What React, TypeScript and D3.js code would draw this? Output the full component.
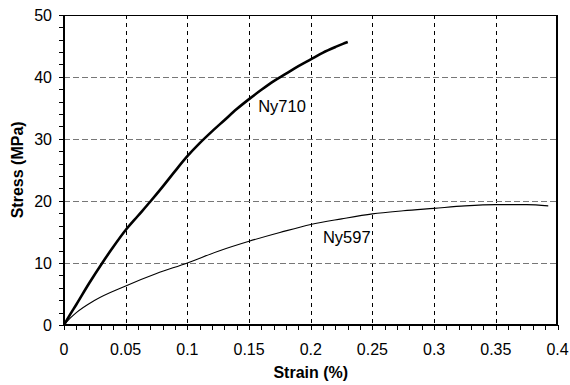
import React from "react";
import * as d3 from "d3";

const xTicks = [0, 0.05, 0.1, 0.15, 0.2, 0.25, 0.3, 0.35, 0.4];
const xTickLabels = ["0", "0.05", "0.1", "0.15", "0.2", "0.25", "0.3", "0.35", "0.4"];
const yTicks = [0, 10, 20, 30, 40, 50];

const ny710Strain = [0, 0.005, 0.01, 0.02, 0.031, 0.04, 0.05, 0.06, 0.07, 0.08, 0.09, 0.1, 0.11, 0.12, 0.13, 0.14, 0.15, 0.16, 0.17, 0.18, 0.19, 0.2, 0.21, 0.22, 0.226, 0.23];
const ny710Stress = [0, 1.7, 3.3, 6.6, 10, 12.6, 15.3, 17.6, 19.9, 22.3, 24.8, 27.2, 29.3, 31.2, 33.0, 34.8, 36.4, 37.9, 39.3, 40.5, 41.7, 42.8, 43.9, 44.8, 45.3, 45.6];

const ny597Strain = [0, 0.005, 0.01, 0.025, 0.05, 0.075, 0.1, 0.125, 0.15, 0.175, 0.2, 0.225, 0.25, 0.275, 0.3, 0.325, 0.35, 0.375, 0.3925];
const ny597Stress = [0, 1.1, 2.0, 4.0, 6.3, 8.3, 10.0, 11.9, 13.5, 14.9, 16.2, 17.1, 17.9, 18.4, 18.8, 19.2, 19.4, 19.4, 19.2];

const seriesLabels = ["Ny710", "Ny597"];

export default function App() {
  const left = 64, right = 557.5, top = 14.7, bottom = 325;
  const x = d3.scaleLinear().domain([0, 0.4]).range([left, right]);
  const y = d3.scaleLinear().domain([0, 50]).range([bottom, top]);
  const px = (v: number) => Math.round(v) + 0.5;
  const line = d3.line<[number, number]>().x(d => x(d[0])).y(d => y(d[1])).curve(d3.curveMonotoneX);
  const d710 = line(ny710Strain.map((s, i) => [s, ny710Stress[i]] as [number, number])) || "";
  const d597 = line(ny597Strain.map((s, i) => [s, ny597Stress[i]] as [number, number])) || "";
  const xMinor = d3.range(0, 41).map(i => i / 100);
  const yMinor = d3.range(0, 26).map(i => i * 2);
  const font = "Arial, 'Liberation Sans', sans-serif";
  const L = 64, R = 557, T = 15, B = 325;

  return (
    <svg width={570} height={385} style={{ position: "absolute", left: 0, top: 0 }} fontFamily={font}>
      <rect width={570} height={385} fill="#fff" />
      <g shapeRendering="crispEdges">
        {xTicks.slice(1, -1).map(t => (
          <line key={"gx" + t} x1={px(x(t))} x2={px(x(t))} y1={T} y2={B} stroke="#000" strokeWidth={1} strokeDasharray="4,4" />
        ))}
        {yTicks.slice(1, -1).map(t => (
          <line key={"gy" + t} x1={L} x2={R} y1={px(y(t))} y2={px(y(t))} stroke="#777" strokeWidth={1} strokeDasharray="6,3" />
        ))}
        {xMinor.map(t => (
          <line key={"tx" + t} x1={px(x(t))} x2={px(x(t))} y1={B} y2={B + 5} stroke="#000" strokeWidth={1} />
        ))}
        {yMinor.map(t => (
          <line key={"ty" + t} x1={L - 5} x2={L} y1={px(y(t))} y2={px(y(t))} stroke="#000" strokeWidth={1} />
        ))}
        <line x1={L} x2={R} y1={T + 0.5} y2={T + 0.5} stroke="#000" strokeWidth={1} />
        <line x1={R} x2={R} y1={T} y2={B} stroke="#000" strokeWidth={2} />
        <line x1={L} x2={L} y1={T} y2={B + 1} stroke="#000" strokeWidth={2} />
        <line x1={L - 1} x2={R + 1} y1={B} y2={B} stroke="#000" strokeWidth={2} />
      </g>
      <path d={d597} fill="none" stroke="#000" strokeWidth={1.1} strokeLinejoin="round" />
      <path d={d710} fill="none" stroke="#000" strokeWidth={2.6} strokeLinejoin="round" />
      {xTicks.map((t, i) => (
        <text key={"lx" + t} x={x(t)} y={355} textAnchor="middle" fontSize={16} fill="#000">{xTickLabels[i]}</text>
      ))}
      {yTicks.map(t => (
        <text key={"ly" + t} x={52} y={y(t) + 5.8} textAnchor="end" fontSize={16} fill="#000">{t}</text>
      ))}
      <text x={(left + right) / 2} y={378} textAnchor="middle" fontSize={16} fontWeight="bold">Strain (%)</text>
      <text transform={`translate(23,${(top + bottom) / 2}) rotate(-90)`} textAnchor="middle" fontSize={16} fontWeight="bold">Stress (MPa)</text>
      <text x={x(0.1574)} y={y(34.3)} fontSize={16.5}>{seriesLabels[0]}</text>
      <text x={x(0.2099)} y={y(13.2)} fontSize={16.5}>{seriesLabels[1]}</text>
    </svg>
  );
}
